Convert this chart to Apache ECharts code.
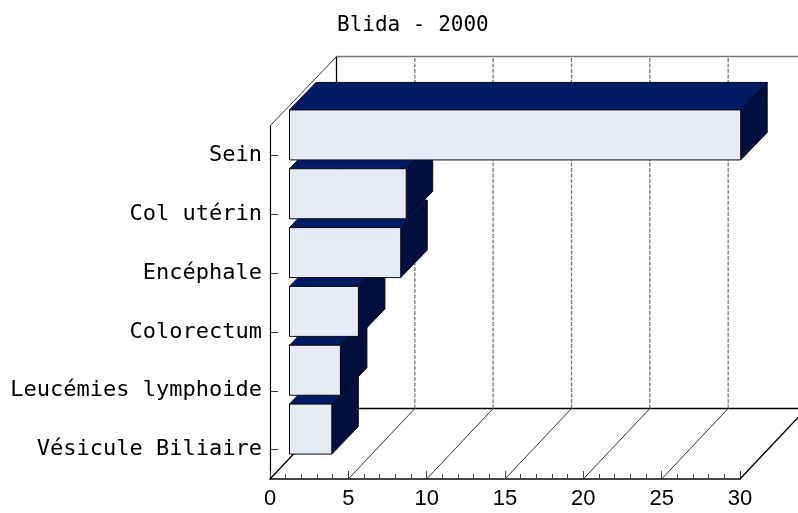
<!DOCTYPE html>
<html>
<head>
<meta charset="utf-8">
<style>html,body{margin:0;padding:0;background:#fff}#chart{width:798px;height:513px}</style>
<script src="https://cdn.jsdelivr.net/npm/echarts@6/dist/echarts.min.js"></script>
</head>
<body>
<div id="chart"></div>
<script>
var chartTitle = "Blida - 2000";
var categories = ["Sein", "Col utérin", "Encéphale", "Colorectum", "Leucémies lymphoide", "Vésicule Biliaire"];
var values = [28.8, 7.45, 7.1, 4.4, 3.25, 2.7];
var xTicks = [0, 5, 10, 15, 20, 25, 30];

// depth of the fake 3d box, in px
var WALL_DX = 66.5, WALL_DY = 70.5;
var BAR_OFF_X = 19.5, BAR_OFF_Y = 20.5;
var BAR_DX = 26.5, BAR_DY = 27.5;
var MONO = '"DejaVu Sans Mono", monospace';

function line(x1, y1, x2, y2, style) {
  return { type: "line", shape: { x1: x1, y1: y1, x2: x2, y2: y2 }, style: style };
}
function poly(points, fill) {
  return {
    type: "polygon",
    shape: { points: points },
    style: { fill: fill, stroke: "#0a0a14", lineWidth: 1, lineJoin: "miter" }
  };
}

// back wall + floor, one vertical/diagonal per tick
function renderWall(params, api) {
  var cs = params.coordSys;
  var bottom = cs.y + cs.height, top = cs.y;
  var x = api.coord([api.value(0), 0])[0];
  var thin = { stroke: "#333", lineWidth: 1, fill: null };
  var solid = { stroke: "#000", lineWidth: 1.3, fill: null };
  var dashed = { stroke: "#777", lineWidth: 1.3, lineDash: [4, 1.5], fill: null };
  var kids = [];
  var first = params.dataIndex === 0;
  var last = params.dataIndex === xTicks.length - 1;

  kids.push(line(x, bottom, x + WALL_DX, bottom - WALL_DY, first || last ? solid : thin));
  kids.push(line(x + WALL_DX, bottom - WALL_DY, x + WALL_DX, top - WALL_DY + 1, first ? solid : dashed));
  if (first) {
    kids.push(line(x, top, x + WALL_DX, top - WALL_DY + 1, thin));
    kids.push(line(x + WALL_DX, top - WALL_DY + 1, cs.x + cs.width + WALL_DX, top - WALL_DY + 1, { stroke: "#777", lineWidth: 1.6, fill: null }));
    kids.push(line(x + WALL_DX, bottom - WALL_DY, cs.x + cs.width + WALL_DX, bottom - WALL_DY, solid));
  }
  return { type: "group", children: kids };
}

function renderBar(params, api) {
  var zero = api.coord([0, api.value(1)]);
  var end = api.coord([api.value(0), api.value(1)]);
  var h = api.size([0, 1])[1] * 0.85;
  var l = zero[0] + BAR_OFF_X;
  var r = end[0] + BAR_OFF_X;
  var t = zero[1] - BAR_OFF_Y - h / 2;
  var b = t + h;
  // upper bars are painted over the lower ones
  var order = categories.length - params.dataIndex;
  var kids = [
    poly([[l, t], [l + BAR_DX, t - BAR_DY], [r + BAR_DX, t - BAR_DY], [r, t]], "#001b66"),
    poly([[r, t], [r + BAR_DX, t - BAR_DY], [r + BAR_DX, b - BAR_DY], [r, b]], "#000f40"),
    poly([[l, t], [r, t], [r, b], [l, b]], "#e8ebf5")
  ];
  return { type: "group", z2: order, children: kids.map(function (k) { k.z2 = order; return k; }) };
}

var chart = echarts.init(document.getElementById("chart"), null, { renderer: "canvas" });
chart.setOption({
  animation: false,
  backgroundColor: "#fff",
  title: {
    text: chartTitle,
    left: 332,
    top: 10,
    textStyle: { fontFamily: MONO, fontSize: 21, fontWeight: "normal", color: "#000" }
  },
  grid: { left: 270, right: 58, top: 126, bottom: 34 },
  xAxis: {
    type: "value",
    min: 0,
    max: 30,
    interval: 5,
    splitLine: { show: false },
    axisLine: { show: true, lineStyle: { color: "#444", width: 2 } },
    axisTick: { show: true, inside: true, length: 8, lineStyle: { color: "#444" } },
    minorTick: { show: true, splitNumber: 5, length: 5, lineStyle: { color: "#444" } },
    axisLabel: { margin: 9, fontFamily: "Liberation Sans", fontSize: 22, color: "#000" }
  },
  yAxis: {
    type: "category",
    inverse: true,
    data: categories,
    axisLine: { show: true, lineStyle: { color: "#000", width: 1.2 } },
    axisTick: { show: true, inside: true, alignWithLabel: true, length: 8, lineStyle: { color: "#333" } },
    axisLabel: { margin: 8, fontFamily: MONO, fontSize: 22, color: "#000" }
  },
  series: [
    {
      type: "custom",
      name: "wall",
      z: 1,
      clip: false,
      silent: true,
      renderItem: renderWall,
      encode: { x: 0, y: 1 },
      data: xTicks.map(function (v) { return [v, 0]; })
    },
    {
      type: "custom",
      name: "bars",
      z: 3,
      clip: false,
      silent: true,
      renderItem: renderBar,
      encode: { x: 0, y: 1 },
      data: values.map(function (v, i) { return [v, i]; })
    }
  ]
});
</script>
</body>
</html>
